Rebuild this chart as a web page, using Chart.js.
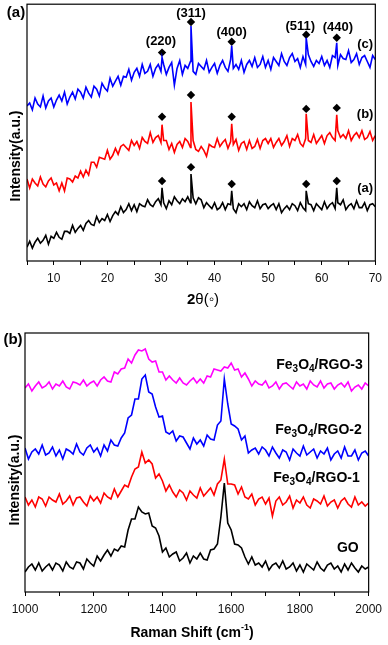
<!DOCTYPE html>
<html>
<head>
<meta charset="utf-8">
<script src="https://cdn.jsdelivr.net/npm/chart.js@4"></script>
<style>
    html, body { margin: 0; padding: 0; background: #fff; }
    #wrap { position: relative; width: 388px; height: 645px; overflow: hidden; }
    canvas { position: absolute; left: 0; }
    #grafico-xrd { top: 0; }
    #grafico-raman { top: 315px; }
</style>
</head>
<body>
<div id="wrap">
    <canvas id="grafico-xrd" width="388" height="315"></canvas>
    <canvas id="grafico-raman" width="388" height="330"></canvas>
</div>
<script>
// ---- (a) XRD: 2theta de 5 a 70, paso 0.5, mas los picos aparte ----
var XRD_START = 5, XRD_STEP = 0.5, XRD_N = 131;
var XRD_TICKS = [5, 10, 15, 20, 25, 30, 35, 40, 45, 50, 55, 60, 65, 70];

var XRD_A = [
    14, 20, 13, 19, 23, 18, 21, 26, 17, 25,
    23, 29, 24, 22, 30, 30, 28, 36, 29, 33,
    36, 31, 38, 41, 37, 36, 45, 39, 43, 41,
    47, 40, 46, 50, 47, 55, 49, 52, 58, 51,
    57, 50, 58, 56, 55, 62, 57, 55, 60, 63,
    57, 59, 53, 61, 57, 65, 61, 58, 63, 60,
    65, 59, 64, 58, 64, 62, 54, 59, 56, 53,
    59, 52, 54, 59, 52, 58, 57, 53, 49, 58,
    55, 58, 52, 60, 56, 54, 61, 53, 57, 58,
    53, 56, 58, 52, 58, 49, 53, 56, 52, 58,
    56, 51, 59, 54, 51, 58, 57, 51, 58, 55,
    52, 60, 53, 57, 59, 53, 59, 57, 62, 52,
    56, 58, 53, 61, 54, 54, 59, 51, 57, 58,
    55
];
var XRD_B = [
    83, 74, 83, 79, 76, 85, 78, 75, 81, 84,
    77, 79, 71, 79, 71, 84, 83, 80, 86, 84,
    91, 85, 92, 87, 100, 100, 95, 105, 104, 103,
    112, 103, 107, 114, 108, 116, 118, 115, 112, 122,
    117, 121, 114, 125, 121, 119, 130, 120, 125, 127,
    120, 122, 122, 113, 119, 110, 118, 121, 115, 124,
    121, 115, 122, 113, 111, 116, 112, 106, 118, 116,
    115, 124, 116, 120, 123, 114, 121, 118, 123, 112,
    119, 121, 113, 122, 114, 116, 123, 114, 122, 124,
    119, 124, 115, 120, 124, 117, 121, 127, 116, 124,
    122, 128, 119, 116, 124, 122, 120, 128, 119, 123,
    127, 119, 127, 130, 125, 122, 132, 125, 128, 124,
    132, 122, 127, 130, 125, 132, 123, 125, 131, 122,
    127
];
var XRD_C = [
    157, 160, 153, 165, 159, 156, 167, 155, 162, 165,
    156, 163, 168, 162, 171, 159, 166, 171, 164, 174,
    171, 165, 176, 170, 166, 177, 174, 167, 180, 175,
    172, 185, 177, 182, 187, 178, 187, 186, 194, 183,
    191, 195, 187, 199, 190, 192, 199, 187, 195, 199,
    192, 199, 189, 196, 201, 178, 195, 203, 189, 198,
    195, 202, 192, 189, 200, 197, 194, 203, 191, 196,
    200, 190, 198, 203, 196, 192, 204, 195, 199, 194,
    203, 191, 199, 203, 197, 206, 196, 199, 207, 196,
    203, 194, 206, 202, 198, 210, 202, 198, 206, 210,
    202, 205, 196, 207, 199, 209, 202, 197, 203, 200,
    207, 198, 203, 196, 208, 206, 198, 209, 205, 204,
    213, 201, 204, 210, 199, 206, 208, 202, 196, 208,
    204
];

// picos de Fe3O4
var PEAK_X = [30.2, 35.6, 43.2, 57.1, 62.8];
var PEAK_A = [74, 88, 71, 71, 74];
var PEAK_B = [138, 161, 139, 149, 148];
var PEAK_C = [206, 238, 218, 226, 221];
// rombos sobre cada pico
var DIA_A = [81, 95, 78, 78, 81];
var DIA_B = [146, 168, 146, 154, 155];
var DIA_C = [211, 242, 222, 229, 226];
// indices (hkl)
var HKL_TEXT = ["(220)", "(311)", "(400)", "(511)", "(440)"];
var HKL_X = [30.0, 35.6, 43.2, 56.0, 63.0];
var HKL_Y = [222, 251, 231, 238, 236];
var CURVE_TAGS = ["(c)", "(b)", "(a)"];
var CURVE_TAG_Y = [219, 148, 73];

// ---- (b) Raman: 1000 a 2000 cm-1, paso 10 ----
var RAMAN_START = 1000, RAMAN_STEP = 10, RAMAN_N = 101;
var RAMAN_TICKS = [1000, 1100, 1200, 1300, 1400, 1500, 1600, 1700, 1800, 1900, 2000];

var RAMAN_RGO3 = [
    204, 208, 201, 206, 210, 204, 206, 210, 203, 208,
    206, 211, 205, 203, 210, 209, 207, 212, 206, 209,
    211, 206, 212, 215, 211, 210, 220, 218, 223, 224,
    233, 229, 237, 242, 241, 243, 233, 230, 231, 220,
    220, 212, 216, 212, 209, 214, 209, 207, 211, 214,
    209, 213, 209, 216, 215, 223, 222, 221, 225, 224,
    229, 222, 223, 215, 219, 213, 206, 211, 208, 207,
    211, 204, 206, 210, 203, 208, 209, 206, 203, 210,
    206, 208, 203, 211, 207, 205, 211, 204, 208, 209,
    203, 207, 209, 205, 210, 201, 205, 207, 203, 209,
    206
];
var RAMAN_RGO2 = [
    144, 133, 140, 143, 138, 147, 137, 139, 145, 136,
    142, 133, 143, 141, 138, 148, 140, 137, 144, 147,
    140, 144, 136, 147, 141, 152, 147, 146, 154, 159,
    174, 177, 193, 193, 213, 217, 200, 198, 185, 175,
    176, 160, 158, 161, 151, 156, 155, 149, 143, 154,
    148, 152, 146, 157, 153, 152, 167, 171, 213, 188,
    168, 166, 163, 152, 156, 139, 142, 144, 138, 145,
    142, 136, 145, 139, 134, 142, 140, 132, 143, 139,
    136, 146, 137, 140, 143, 134, 141, 138, 144, 132,
    138, 141, 134, 145, 136, 136, 142, 132, 139, 141,
    136
];
var RAMAN_RGO1 = [
    95, 87, 92, 85, 95, 93, 86, 95, 92, 90,
    98, 88, 91, 96, 87, 94, 95, 90, 86, 96,
    91, 95, 89, 99, 95, 93, 103, 95, 101, 107,
    105, 115, 123, 125, 140, 129, 132, 128, 114, 118,
    111, 101, 107, 100, 95, 102, 99, 92, 101, 97,
    94, 104, 96, 100, 104, 97, 108, 112, 133, 108,
    108, 107, 98, 105, 95, 93, 98, 87, 93, 95,
    88, 94, 76, 91, 95, 87, 90, 96, 84, 92,
    89, 95, 87, 84, 93, 91, 88, 96, 86, 90,
    92, 84, 91, 94, 88, 85, 95, 87, 90, 86,
    89
];
var RAMAN_GO = [
    20, 25, 28, 22, 29, 21, 25, 28, 22, 29,
    27, 21, 30, 25, 23, 30, 29, 23, 33, 29,
    26, 36, 31, 37, 42, 36, 43, 41, 46, 45,
    62, 73, 73, 85, 80, 78, 79, 66, 64, 56,
    40, 44, 35, 38, 40, 31, 34, 39, 29, 36,
    33, 39, 33, 32, 42, 43, 48, 75, 109, 69,
    62, 48, 47, 44, 35, 28, 35, 27, 29, 25,
    31, 22, 27, 29, 24, 31, 23, 25, 29, 21,
    27, 20, 28, 25, 22, 30, 24, 21, 27, 29,
    23, 26, 20, 28, 22, 29, 24, 20, 26, 23,
    25
];
var RAMAN_NAMES = ["3", "2", "1"];
var RAMAN_TAG_X = [1983, 1980, 1974, 1971];
var RAMAN_TAG_Y = [227, 162, 114, 44];

var FONT = "'Liberation Sans', Arial, Helvetica, sans-serif";
Chart.defaults.font.family = FONT;

function grid(start, step, n) {
    var xs = [];
    for (var i = 0; i < n; i++) { xs.push(+(start + step * i).toFixed(2)); }
    return xs;
}

/** Une la malla regular con los picos y ordena por x. */
function puntos(xs, ys, extraX, extraY) {
    var p = xs.map(function (x, i) { return { x: x, y: ys[i] }; });
    if (extraX) {
        extraX.forEach(function (x, i) { p.push({ x: x, y: extraY[i] }); });
        p.sort(function (a, b) { return a.x - b.x; });
    }
    return p;
}

function serie(data, color) {
    return { data: data, borderColor: color, borderWidth: 1.6, pointRadius: 0, fill: false, tension: 0 };
}

function rombos(ys) {
    return {
        data: puntos(PEAK_X, ys), showLine: false, pointStyle: "rectRot", pointRadius: 4.2,
        pointBackgroundColor: "#000", pointBorderWidth: 0, borderColor: "#000"
    };
}

/** Dibuja texto por trozos (para subindices / superindices). parts: [texto, tam, peso, dy] */
function textoPartes(ctx, parts, x, y, align) {
    var w = 0;
    parts.forEach(function (p) {
        ctx.font = p[2] + " " + p[1] + "px " + FONT;
        w += ctx.measureText(p[0]).width;
    });
    var cx = align === "right" ? x - w : (align === "center" ? x - w / 2 : x);
    ctx.textAlign = "left";
    ctx.textBaseline = "middle";
    parts.forEach(function (p) {
        ctx.font = p[2] + " " + p[1] + "px " + FONT;
        ctx.fillText(p[0], cx, y + (p[3] || 0));
        cx += ctx.measureText(p[0]).width;
    });
}

function tituloVertical(ctx, texto, x, y) {
    ctx.save();
    ctx.translate(x, y);
    ctx.rotate(-Math.PI / 2);
    ctx.font = "bold 14px " + FONT;
    ctx.textAlign = "center";
    ctx.textBaseline = "middle";
    ctx.fillStyle = "#000";
    ctx.fillText(texto, 0, 0);
    ctx.restore();
}

function marco(chart) {
    var a = chart.chartArea, ctx = chart.ctx;
    ctx.save();
    ctx.strokeStyle = "#000";
    ctx.lineWidth = 1.2;
    ctx.strokeRect(a.left, a.top, a.right - a.left, a.bottom - a.top);
    ctx.restore();
}

function ejeX(ticks, min, max, alto, cadaEtiqueta) {
    return {
        type: "linear", min: min, max: max,
        afterBuildTicks: function (s) { s.ticks = ticks.map(function (v) { return { value: v }; }); },
        afterFit: function (s) { s.height = alto; },
        border: { display: false },
        grid: { drawOnChartArea: false, drawTicks: true, tickLength: 4, color: "#000", tickWidth: 1 },
        ticks: {
            autoSkip: false, maxRotation: 0, padding: 6, color: "#111",
            font: { size: 12 },
            callback: function (v) { return v % cadaEtiqueta === 0 ? String(v) : ""; }
        }
    };
}

var xrdX = grid(XRD_START, XRD_STEP, XRD_N);
var ramanX = grid(RAMAN_START, RAMAN_STEP, RAMAN_N);

var xrdTextos = {
    id: "xrdTextos",
    afterDraw: function (chart) {
        var ctx = chart.ctx, sx = chart.scales.x, sy = chart.scales.y;
        marco(chart);
        ctx.save();
        ctx.fillStyle = "#000";
        HKL_TEXT.forEach(function (t, i) {
            textoPartes(ctx, [[t, 13, "bold"]], sx.getPixelForValue(HKL_X[i]), sy.getPixelForValue(HKL_Y[i]), "center");
        });
        CURVE_TAGS.forEach(function (t, i) {
            textoPartes(ctx, [[t, 13, "bold"]], sx.getPixelForValue(68.1), sy.getPixelForValue(CURVE_TAG_Y[i]), "center");
        });
        textoPartes(ctx, [["(a)", 15, "bold"]], 16, 13, "center");
        textoPartes(ctx, [["2", 15, "bold"], ["\u03b8(\u25e6)", 15, "normal"]], 203, 300, "center");
        ctx.restore();
        tituloVertical(ctx, "Intensity(a.u.)", 16, 156);
    }
};

var ramanTextos = {
    id: "ramanTextos",
    afterDraw: function (chart) {
        var ctx = chart.ctx, sx = chart.scales.x, sy = chart.scales.y;
        marco(chart);
        ctx.save();
        ctx.fillStyle = "#000";
        RAMAN_NAMES.forEach(function (n, i) {
            textoPartes(ctx, [["Fe", 14, "bold"], ["3", 10, "bold", 4], ["O", 14, "bold"], ["4", 10, "bold", 4], ["/RGO-" + n, 14, "bold"]],
                sx.getPixelForValue(RAMAN_TAG_X[i]), sy.getPixelForValue(RAMAN_TAG_Y[i]), "right");
        });
        textoPartes(ctx, [["GO", 14, "bold"]], sx.getPixelForValue(RAMAN_TAG_X[3]), sy.getPixelForValue(RAMAN_TAG_Y[3]), "right");
        textoPartes(ctx, [["(b)", 15, "bold"]], 13, 25, "center");
        textoPartes(ctx, [["Raman Shift (cm", 14, "bold"], ["-1", 9, "bold", -5], [")", 14, "bold"]], 192, 318, "center");
        ctx.restore();
        tituloVertical(ctx, "Intensity(a.u.)", 15, 165);
    }
};

new Chart(document.getElementById("grafico-xrd").getContext("2d"), {
    type: "line",
    data: {
        datasets: [
            serie(puntos(xrdX, XRD_A, PEAK_X, PEAK_A), "#000000"),
            serie(puntos(xrdX, XRD_B, PEAK_X, PEAK_B), "#ff0000"),
            serie(puntos(xrdX, XRD_C, PEAK_X, PEAK_C), "#0000ff"),
            rombos(DIA_A), rombos(DIA_B), rombos(DIA_C)
        ]
    },
    options: {
        responsive: false, animation: false, devicePixelRatio: 1,
        layout: { padding: { left: 27, right: 11, top: 1, bottom: 0 } },
        plugins: { legend: { display: false }, tooltip: { enabled: false } },
        scales: {
            x: ejeX(XRD_TICKS, 5, 70, 54, 10),
            y: { display: false, min: 0, max: 260 }
        }
    },
    plugins: [xrdTextos]
});

new Chart(document.getElementById("grafico-raman").getContext("2d"), {
    type: "line",
    data: {
        datasets: [
            serie(puntos(ramanX, RAMAN_GO), "#000000"),
            serie(puntos(ramanX, RAMAN_RGO1), "#ff0000"),
            serie(puntos(ramanX, RAMAN_RGO2), "#0000ff"),
            serie(puntos(ramanX, RAMAN_RGO3), "#ff00ff")
        ]
    },
    options: {
        responsive: false, animation: false, devicePixelRatio: 1,
        layout: { padding: { left: 25, right: 15, top: 18, bottom: 0 } },
        plugins: { legend: { display: false }, tooltip: { enabled: false } },
        scales: {
            x: ejeX(RAMAN_TICKS, 1000, 2000, 53, 200),
            y: { display: false, min: 0, max: 259 }
        }
    },
    plugins: [ramanTextos]
});
</script>
</body>
</html>
